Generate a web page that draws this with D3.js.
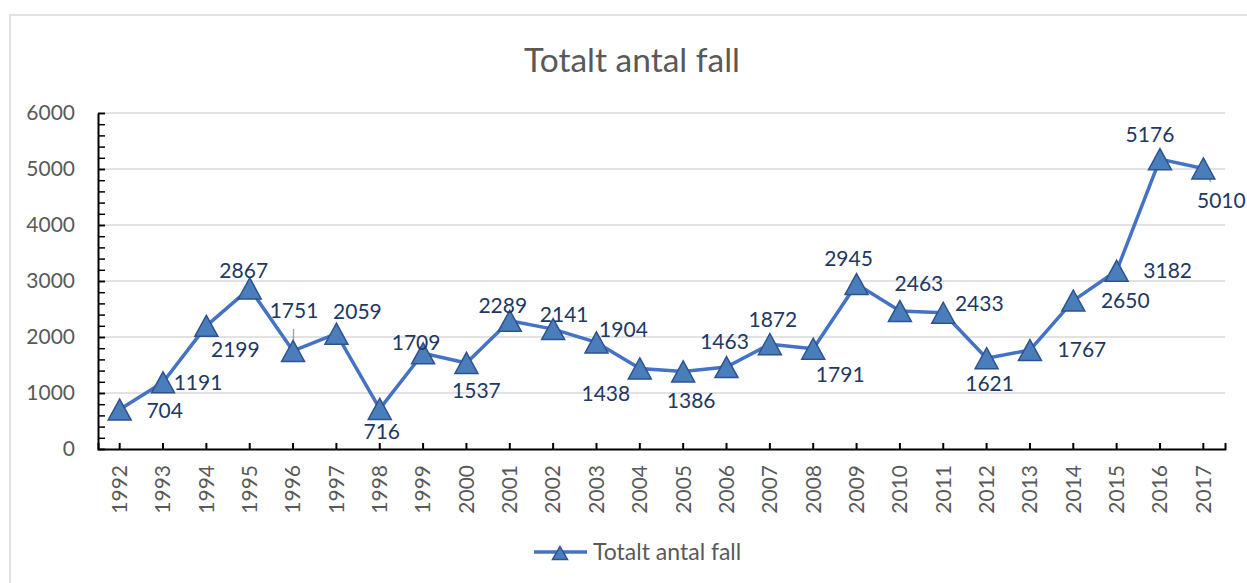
<!DOCTYPE html>
<html>
<head>
<meta charset="utf-8">
<script src="https://cdn.jsdelivr.net/npm/d3@7"></script>
<style>
  body { margin: 0; background: #fff; }
  svg { font-family: Lato, "Open Sans", sans-serif; }
</style>
</head>
<body>
<div id="wrapper"></div>
<script>
// data
const years = ["1992","1993","1994","1995","1996","1997","1998","1999","2000","2001","2002","2003","2004","2005","2006","2007","2008","2009","2010","2011","2012","2013","2014","2015","2016","2017"]
const cases = [704, 1191, 2199, 2867, 1751, 2059, 716, 1709, 1537, 2289, 2141, 1904, 1438, 1386, 1463, 1872, 1791, 2945, 2463, 2433, 1621, 1767, 2650, 3182, 5176, 5010]
const yTicks = [0, 1000, 2000, 3000, 4000, 5000, 6000]
const seriesName = "Totalt antal fall"

// where each data label sits relative to its point (px)
const labelOffsets = [
  [45, 1], [35, 0], [29, 24], [-6, -18], [1, -40], [21, -22], [2, 23], [-7, -11],
  [10, 28], [-7, -15], [11, -14], [27, -13], [-34, 25], [8, 29], [-2, -25], [3, -25],
  [27, 26], [-8, -25], [19, -27], [36, -9], [3, 25], [52, 0], [52, 0], [51, 0],
  [-10, -24], [18, 32],
]
const leaderLines = { "1996": 0.55, "2017": 0.42 }

const dimensions = {
  width: 1247,
  height: 583,
  margin: { top: 113, right: 22, bottom: 134, left: 98 },
}
dimensions.boundedWidth = dimensions.width - dimensions.margin.left - dimensions.margin.right
dimensions.boundedHeight = dimensions.height - dimensions.margin.top - dimensions.margin.bottom

const svg = d3.select("#wrapper")
  .append("svg")
  .attr("width", dimensions.width)
  .attr("height", dimensions.height)

// chart border
svg.append("rect")
  .attr("x", 10).attr("y", 15)
  .attr("width", 1260).attr("height", 600)
  .attr("fill", "none")
  .attr("stroke", "#d9d9d9")
  .attr("stroke-width", 1.5)

svg.append("text")
  .attr("x", 632).attr("y", 72)
  .attr("text-anchor", "middle")
  .attr("font-size", 33.5)
  .attr("fill", "#595959")
  .text(seriesName)

const bounds = svg.append("g")
  .attr("transform", `translate(${dimensions.margin.left},${dimensions.margin.top})`)

const xScale = d3.scaleBand()
  .domain(years)
  .range([0, dimensions.boundedWidth])
  .padding(0)
const yScale = d3.scaleLinear()
  .domain([0, 6000])
  .range([dimensions.boundedHeight, 0])
const cx = d => xScale(d) + xScale.bandwidth() / 2

// gridlines
bounds.append("g")
  .selectAll("line")
  .data(yTicks.filter(d => d > 0))
  .join("line")
  .attr("x1", 0).attr("x2", dimensions.boundedWidth)
  .attr("y1", d => yScale(d)).attr("y2", d => yScale(d))
  .attr("stroke", "#d9d9d9")
  .attr("stroke-width", 1.5)

// minor y ticks
const minor = bounds.append("g")
  .call(d3.axisLeft(yScale).tickValues(d3.range(0, 6001, 200)).tickSize(-7).tickFormat(""))
  .style("color", "#000")
minor.selectAll("line").attr("stroke-width", 1.5)
minor.select(".domain").remove()

const yAxis = bounds.append("g")
  .call(d3.axisLeft(yScale).tickValues(yTicks).tickSize(-7).tickSizeOuter(0)
    .tickPadding(23).tickFormat(d3.format("d")))
  .style("color", "#000")
yAxis.select(".domain").attr("stroke-width", 2)
yAxis.selectAll("line").attr("stroke-width", 1.5)
yAxis.selectAll("text")
  .attr("font-size", 21)
  .attr("fill", "#595959")
  .attr("font-family", "Lato, sans-serif")

const xAxis = bounds.append("g")
  .attr("transform", `translate(0,${dimensions.boundedHeight})`)
  .call(d3.axisBottom(xScale).tickSize(-6).tickSizeOuter(-6))
  .style("color", "#000")
xAxis.select(".domain").attr("stroke-width", 2)
xAxis.selectAll("line").attr("stroke-width", 2)
xAxis.selectAll("text")
  .attr("font-size", 21)
  .attr("fill", "#595959")
  .attr("font-family", "Lato, sans-serif")
  .attr("text-anchor", "end")
  .attr("transform", "rotate(-90)")
  .attr("x", -16)
  .attr("y", 0)
  .attr("dy", "0.35em")

// line
const points = years.map((y, i) => ({ year: y, value: cases[i], off: labelOffsets[i] }))
bounds.append("path")
  .datum(points)
  .attr("fill", "none")
  .attr("stroke", "#4472c4")
  .attr("stroke-width", 3.5)
  .attr("stroke-linejoin", "round")
  .attr("d", d3.line().x(d => cx(d.year)).y(d => yScale(d.value)))

// leader lines
bounds.append("g")
  .selectAll("line")
  .data(points.filter(d => leaderLines[d.year]))
  .join("line")
  .attr("x1", d => cx(d.year))
  .attr("y1", d => yScale(d.value))
  .attr("x2", d => cx(d.year) + d.off[0] * leaderLines[d.year])
  .attr("y2", d => yScale(d.value) + d.off[1] * leaderLines[d.year])
  .attr("stroke", "#a6a6a6")
  .attr("stroke-width", 1.5)

const triangle = (w, h) => `M0,${-h / 2}L${w / 2},${h / 2}L${-w / 2},${h / 2}Z`

bounds.append("g")
  .selectAll("path")
  .data(points)
  .join("path")
  .attr("transform", d => `translate(${cx(d.year)},${yScale(d.value)})`)
  .attr("d", triangle(23, 21))
  .attr("fill", "#4a7ebb")
  .attr("stroke", "#2f528f")
  .attr("stroke-width", 1.5)

bounds.append("g")
  .selectAll("text")
  .data(points)
  .join("text")
  .attr("x", d => cx(d.year) + d.off[0])
  .attr("y", d => yScale(d.value) + d.off[1])
  .attr("dy", "0.35em")
  .attr("text-anchor", "middle")
  .attr("font-size", 21)
  .attr("fill", "#203864")
  .text(d => d.value)

// legend
const legend = svg.append("g").attr("transform", "translate(534,552)")
legend.append("line")
  .attr("x1", 0).attr("x2", 53)
  .attr("stroke", "#4472c4").attr("stroke-width", 3.5)
legend.append("path")
  .attr("transform", "translate(26,1)")
  .attr("d", triangle(15, 13))
  .attr("fill", "#4a7ebb")
  .attr("stroke", "#2f528f")
  .attr("stroke-width", 1.5)
legend.append("text")
  .attr("x", 59).attr("y", 0)
  .attr("dy", "0.35em")
  .attr("font-size", 23)
  .attr("fill", "#595959")
  .text(seriesName)
</script>
</body>
</html>
